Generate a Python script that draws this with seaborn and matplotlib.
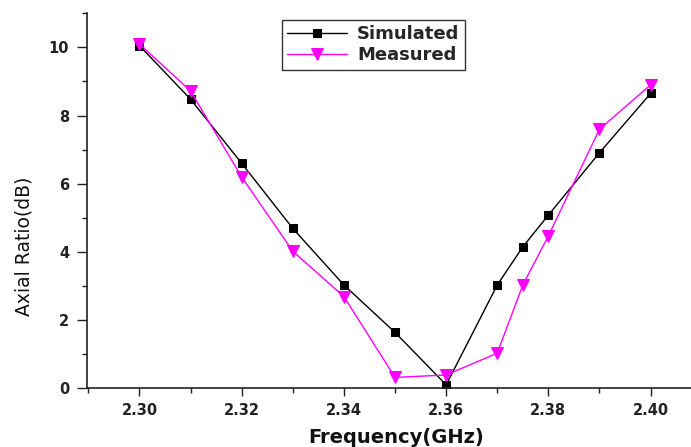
import matplotlib
matplotlib.use("Agg")
import matplotlib.pyplot as plt
import seaborn as sns
import pandas as pd
from matplotlib.ticker import MultipleLocator, FormatStrFormatter

freq = [2.30, 2.31, 2.32, 2.33, 2.34, 2.35, 2.36, 2.37, 2.375, 2.38, 2.39, 2.40]
simulated = [10.05, 8.48, 6.60, 4.69, 3.03, 1.64, 0.10, 3.03, 4.15, 5.08, 6.91, 8.65]
measured = [10.10, 8.72, 6.20, 4.02, 2.69, 0.32, 0.39, 1.03, 3.03, 4.47, 7.60, 8.90]
x_ticks = [2.30, 2.32, 2.34, 2.36, 2.38, 2.40]
y_ticks = [0, 2, 4, 6, 8, 10]

sns.set_theme(style="ticks")
plt.rcParams['font.family'] = ['DejaVu Sans']

df_sim = pd.DataFrame({"Frequency": freq, "AR": simulated})
df_mea = pd.DataFrame({"Frequency": freq, "AR": measured})

W, H = 691, 447
L, B, T = 87.3, 388.3, 13.3
fig = plt.figure(figsize=(W / 100, H / 100), dpi=100)
ax = fig.add_axes([L / W, 1 - B / H, 1 - L / W, (B - T) / H])

sns.lineplot(data=df_sim, x="Frequency", y="AR", ax=ax, color="black", lw=1.0,
             marker="s", markersize=5.5, markeredgecolor="black", label="Simulated")
sns.lineplot(data=df_mea, x="Frequency", y="AR", ax=ax, color="#FF00FF", lw=1.0,
             marker="v", markersize=8, markeredgecolor="#FF00FF", label="Measured")

ax.set_xlim(2.2898, 2.4079)
ax.set_ylim(0, 11.0)
ax.set_xticks(x_ticks)
ax.set_yticks(y_ticks)
ax.xaxis.set_minor_locator(MultipleLocator(0.01))
ax.yaxis.set_minor_locator(MultipleLocator(1))
ax.xaxis.set_major_formatter(FormatStrFormatter('%.2f'))
ax.tick_params(axis='x', which='major', direction='out', length=5.5, width=1.0,
               colors='#222222', labelsize=10.5, labelcolor='#222222', pad=5)
ax.tick_params(axis='y', which='major', direction='out', length=7, width=1.0,
               colors='#222222', labelsize=10.5, labelcolor='#222222', pad=6)
ax.tick_params(axis='both', which='minor', direction='out', length=3.3, width=1.0, colors='#222222')
for lab in ax.get_xticklabels() + ax.get_yticklabels():
    lab.set_fontweight('bold')

sns.despine(ax=ax, top=True, right=True)
for s in ['left', 'bottom']:
    ax.spines[s].set_linewidth(1.2)
    ax.spines[s].set_color('#222222')

ax.set_xlabel("Frequency(GHz)", fontsize=14, fontweight='bold', color='#111111')
ax.xaxis.set_label_coords((396.5 - L) / (W - L), -(428 - B) / (B - T))
ax.set_ylabel("Axial Ratio(dB)", fontsize=13.5, color='#111111',
              family=['Liberation Sans Narrow', 'DejaVu Sans'])
ax.yaxis.set_label_coords((34 - L) / (W - L), (B - 246) / (B - T))

leg = ax.legend(loc='upper left', bbox_to_anchor=(282 / W, 1 - 20 / H),
                bbox_transform=fig.transFigure, borderaxespad=0, frameon=True,
                fancybox=False, handlelength=3.3, prop={'weight': 'bold', 'size': 13},
                borderpad=0.3, labelspacing=0.15, handletextpad=0.55)
leg.get_frame().set_edgecolor('black')
leg.get_frame().set_linewidth(1.0)

fig.savefig("out.png", dpi=100)
